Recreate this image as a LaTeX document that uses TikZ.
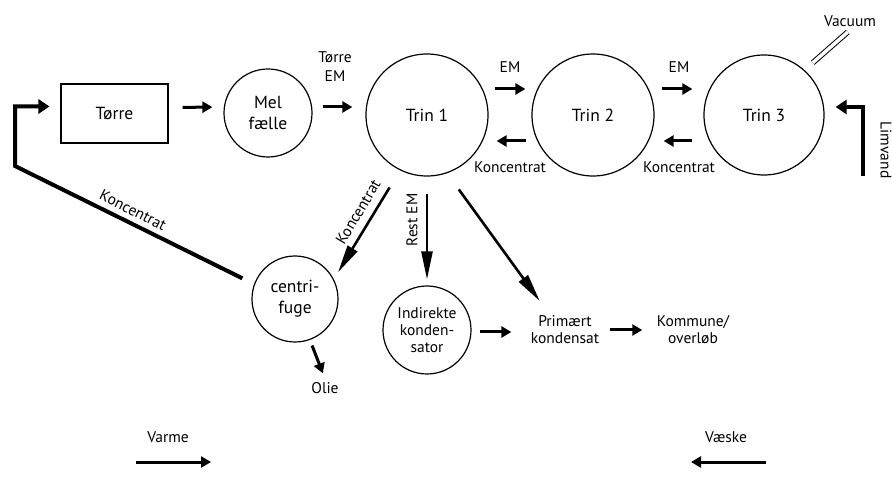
\documentclass[tikz,border=0pt]{standalone}
\usepackage{fontspec}
\setmainfont{PT Sans}
\usetikzlibrary{arrows.meta}
\tikzset{
    unit/.style = {draw, circle, line width=1.2pt, inner sep=1pt, align=center, font=\fontsize{17.5}{21}\selectfont},
    small-unit/.style = {unit, font=\fontsize{15.5}{17}\selectfont},
    txt/.style = {align=center, font=\fontsize{15.5}{17}\selectfont},
    lbl/.style = {align=center, font=\fontsize{15.5}{19}\selectfont},
    flow/.style = {line width=3pt, -{Triangle[length=10pt,width=11pt]}},
    long-flow/.style = {line width=2.6pt, -{Triangle[length=28pt,width=11pt]}},
    return-flow/.style = {line width=4pt, line join=miter, -{Triangle[length=11pt,width=14pt]}},
}

\begin{document}
\begin{tikzpicture}[x=1pt, y=-1pt]
\useasboundingbox (0,0) rectangle (892,494);

\node[draw, line width=1.1pt, minimum width=107pt, minimum height=59pt, font=\fontsize{17.5}{21}\selectfont] (torre) at (114.5,113.5) {Tørre};
\node[unit, minimum size=88pt] (mel) at (268,113) {Mel\\fælle};
\node[unit, minimum size=122pt] (trin1) at (427,115) {Trin 1};
\node[unit, minimum size=122pt] (trin2) at (593,115) {Trin 2};
\node[unit, minimum size=120pt] (trin3) at (764,115) {Trin 3};
\node[unit, minimum size=86pt] (centri) at (295,299) {centri-\\fuge};
\node[small-unit, minimum size=88pt] (indir) at (427,330) {Indirekte\\konden-\\sator};
\node[txt] (prim) at (565,330) {Primært\\kondensat};
\node[txt] (kommune) at (693,330) {Kommune/\\overløb};
\node[lbl] (olie) at (325,388) {Olie};
\node[lbl] (vacuum) at (850,21) {Vacuum};

% hovedstroem
\draw[flow, shorten <=14pt, shorten >=11pt] ([yshift=6pt]torre.east) -- ([yshift=6pt]mel.west);
\draw[flow, shorten <=10pt, shorten >=13pt] ([yshift=6pt]mel.east) -- ([yshift=8pt]trin1.west);
\node[lbl] at (335,67) {Tørre\\EM};
\draw[flow, shorten <=6pt, shorten >=6pt] ([yshift=26pt]trin1.east) -- ([yshift=26pt]trin2.west)
    node[lbl, midway, above=12pt] {EM};
\draw[flow, shorten <=5pt, shorten >=8pt] ([yshift=-26pt]trin2.west) -- ([yshift=-26pt]trin1.east)
    node[lbl, midway, below=16pt] {Koncentrat};
\draw[flow, shorten <=7pt, shorten >=11pt] ([yshift=26pt]trin2.east) -- ([yshift=26pt]trin3.west)
    node[lbl, midway, above=12pt] {EM};
\draw[flow, shorten <=11pt, shorten >=9pt] ([yshift=-26pt]trin3.west) -- ([yshift=-26pt]trin2.east)
    node[lbl, midway, below=16pt] {Koncentrat};

% limvand og vacuum
\coordinate (limvand) at (863,176);
\draw[return-flow] (limvand) |- ([xshift=11pt, yshift=8pt]trin3.east);
\node[lbl, rotate=-90] at (886,150) {Limvand};
\draw[line width=1pt, double, double distance=3.5pt, shorten <=11pt, shorten >=3pt] (trin3.48) -- (vacuum.south);

% retur
\coordinate (bend) at (15,166);
\draw[return-flow, shorten <=13pt] (centri.160) -- (bend) |- ([xshift=-11pt, yshift=7pt]torre.west);
\node[lbl, rotate=-26.7] at (133,210) {Koncentrat};

% nedad
\draw[long-flow, shorten <=20pt, shorten >=8pt] (trin1.244) -- (centri.27);
\node[lbl, rotate=59] at (358,212) {Koncentrat};
\draw[long-flow, shorten <=17pt, shorten >=6pt] (trin1.south) -- (indir.north);
\node[lbl, rotate=90] at (412,220) {Rest EM};
\draw[long-flow, shorten <=20pt, shorten >=14pt] (trin1.289) -- ([xshift=-17pt]prim.north);
\draw[flow, shorten <=8pt, shorten >=16pt] ([yshift=-2pt]indir.east) -- ([yshift=-2pt]prim.west);
\draw[flow, shorten <=7pt, shorten >=11pt] (prim.east) -- (kommune.west);
\draw[flow, shorten <=6pt, shorten >=6pt] (centri.290) -- (olie.north);

% varme og vaeske
\node[lbl] (varme) at (168,437) {Varme};
\coordinate (varme-a) at (136,462);
\coordinate (varme-b) at (211,462);
\draw[flow] (varme-a) -- (varme-b);
\node[lbl] (vaeske) at (726,437) {Væske};
\coordinate (vaeske-a) at (766,462);
\coordinate (vaeske-b) at (691,462);
\draw[flow] (vaeske-a) -- (vaeske-b);
\end{tikzpicture}
\end{document}
